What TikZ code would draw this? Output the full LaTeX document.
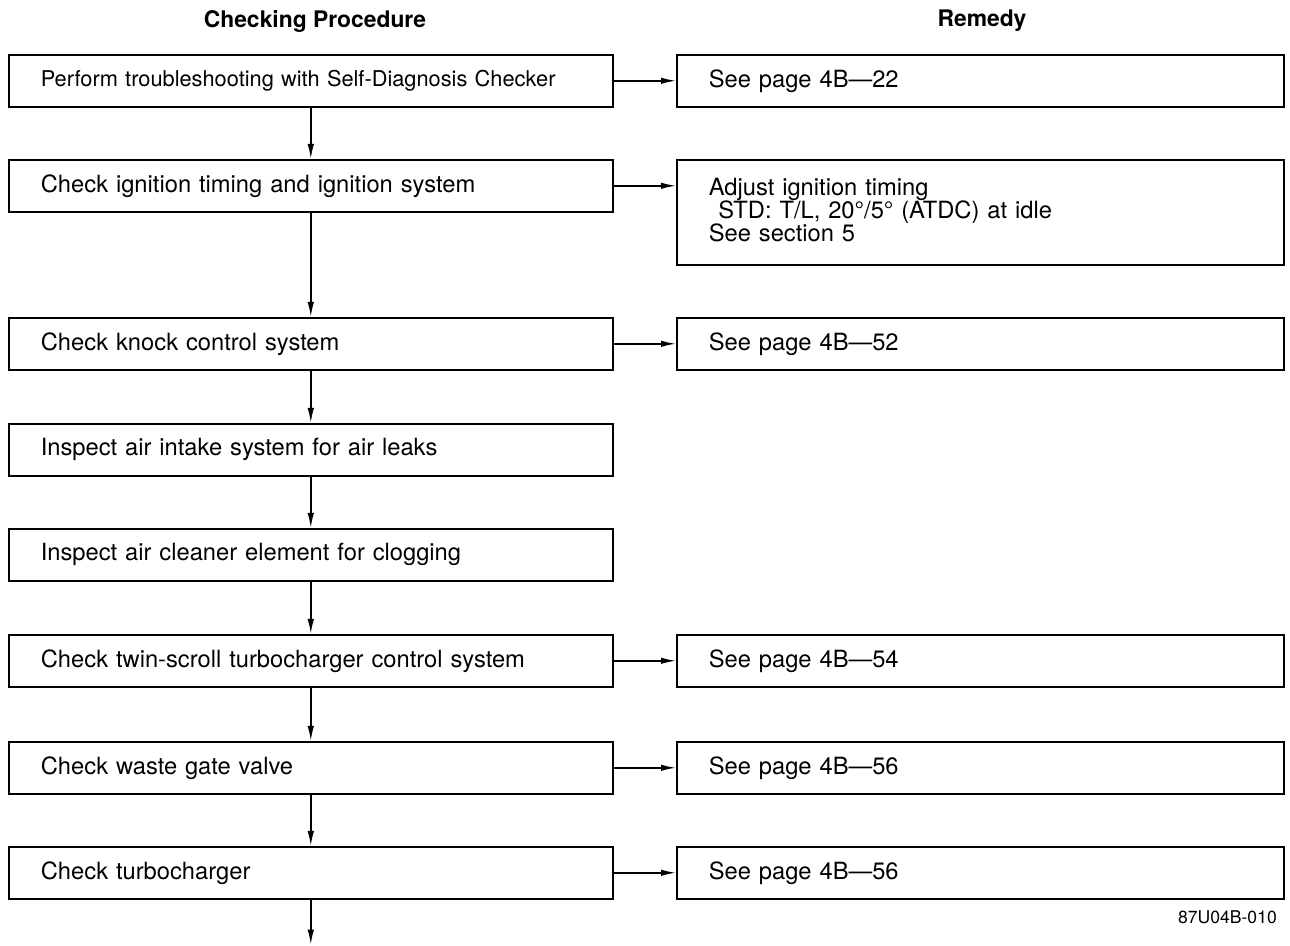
\documentclass[tikz,border=0pt]{standalone}
\usepackage{fontspec}
\setmainfont{TeX Gyre Heros}
\usetikzlibrary{arrows.meta}
\begin{document}
\begin{tikzpicture}[chk/.style={draw,line width=0.9pt,anchor=north west,align=left,text width=10.8cm,inner xsep=0.64cm,inner ysep=0pt,minimum height=1.04cm,font=\fontsize{13.5}{13.2}\selectfont},
rem/.style={chk,text width=10.86cm},
arr/.style={line width=0.9pt,-{Latex[length=3mm,width=1.3mm]}}]
\useasboundingbox (0,0) rectangle (25.8,-18.92);
\node[font=\bfseries\fontsize{13}{15}\selectfont] (hdrL) at (6.3,-0.42) {Checking Procedure};
\node[font=\bfseries\fontsize{13}{15}\selectfont] (hdrR) at (19.64,-0.42) {Remedy};
% checking procedure
\node[chk,font=\fontsize{12.4}{13.2}\selectfont] (p1) at (0.16,-1.08) {Perform troubleshooting with Self-Diagnosis Checker};
\node[chk] (p2) at (0.16,-3.18) {Check ignition timing and ignition system};
\node[chk] (p3) at (0.16,-6.34) {Check knock control system};
\node[chk] (p4) at (0.16,-8.46) {Inspect air intake system for air leaks};
\node[chk] (p5) at (0.16,-10.56) {Inspect air cleaner element for clogging};
\node[chk] (p6) at (0.16,-12.68) {Check twin-scroll turbocharger control system};
\node[chk] (p7) at (0.16,-14.82) {Check waste gate valve};
\node[chk] (p8) at (0.16,-16.92) {Check turbocharger};
% remedy
\node[rem] (r1) at (13.52,-1.08) {See page 4B—22};
\node[rem,minimum height=2.1cm,inner ysep=0.04cm] (r2) at (13.52,-3.18) {Adjust ignition timing\\\hspace*{0.4em}STD: T/L, 20°/5° (ATDC) at idle\\See section 5\vspace*{0.08cm}};
\node[rem] (r3) at (13.52,-6.34) {See page 4B—52};
\node[rem] (r6) at (13.52,-12.68) {See page 4B—54};
\node[rem] (r7) at (13.52,-14.82) {See page 4B—56};
\node[rem] (r8) at (13.52,-16.92) {See page 4B—56};
\node[anchor=east,font=\fontsize{10}{12}\selectfont] (code) at (25.66,-18.34) {87U04B-010};
% connectors
\foreach \a/\b in {p1/p2,p2/p3,p3/p4,p4/p5,p5/p6,p6/p7,p7/p8}
  \draw[arr] (\a) -- (\b);
\coordinate (end) at ([yshift=-0.9cm]p8.south);
\draw[arr] (p8) -- (end);
\foreach \a/\b in {p1/r1,p2/r2,p3/r3,p6/r6,p7/r7,p8/r8}
  \draw[arr] (\a.east) -- (\a.east -| \b.west);
\end{tikzpicture}
\end{document}
